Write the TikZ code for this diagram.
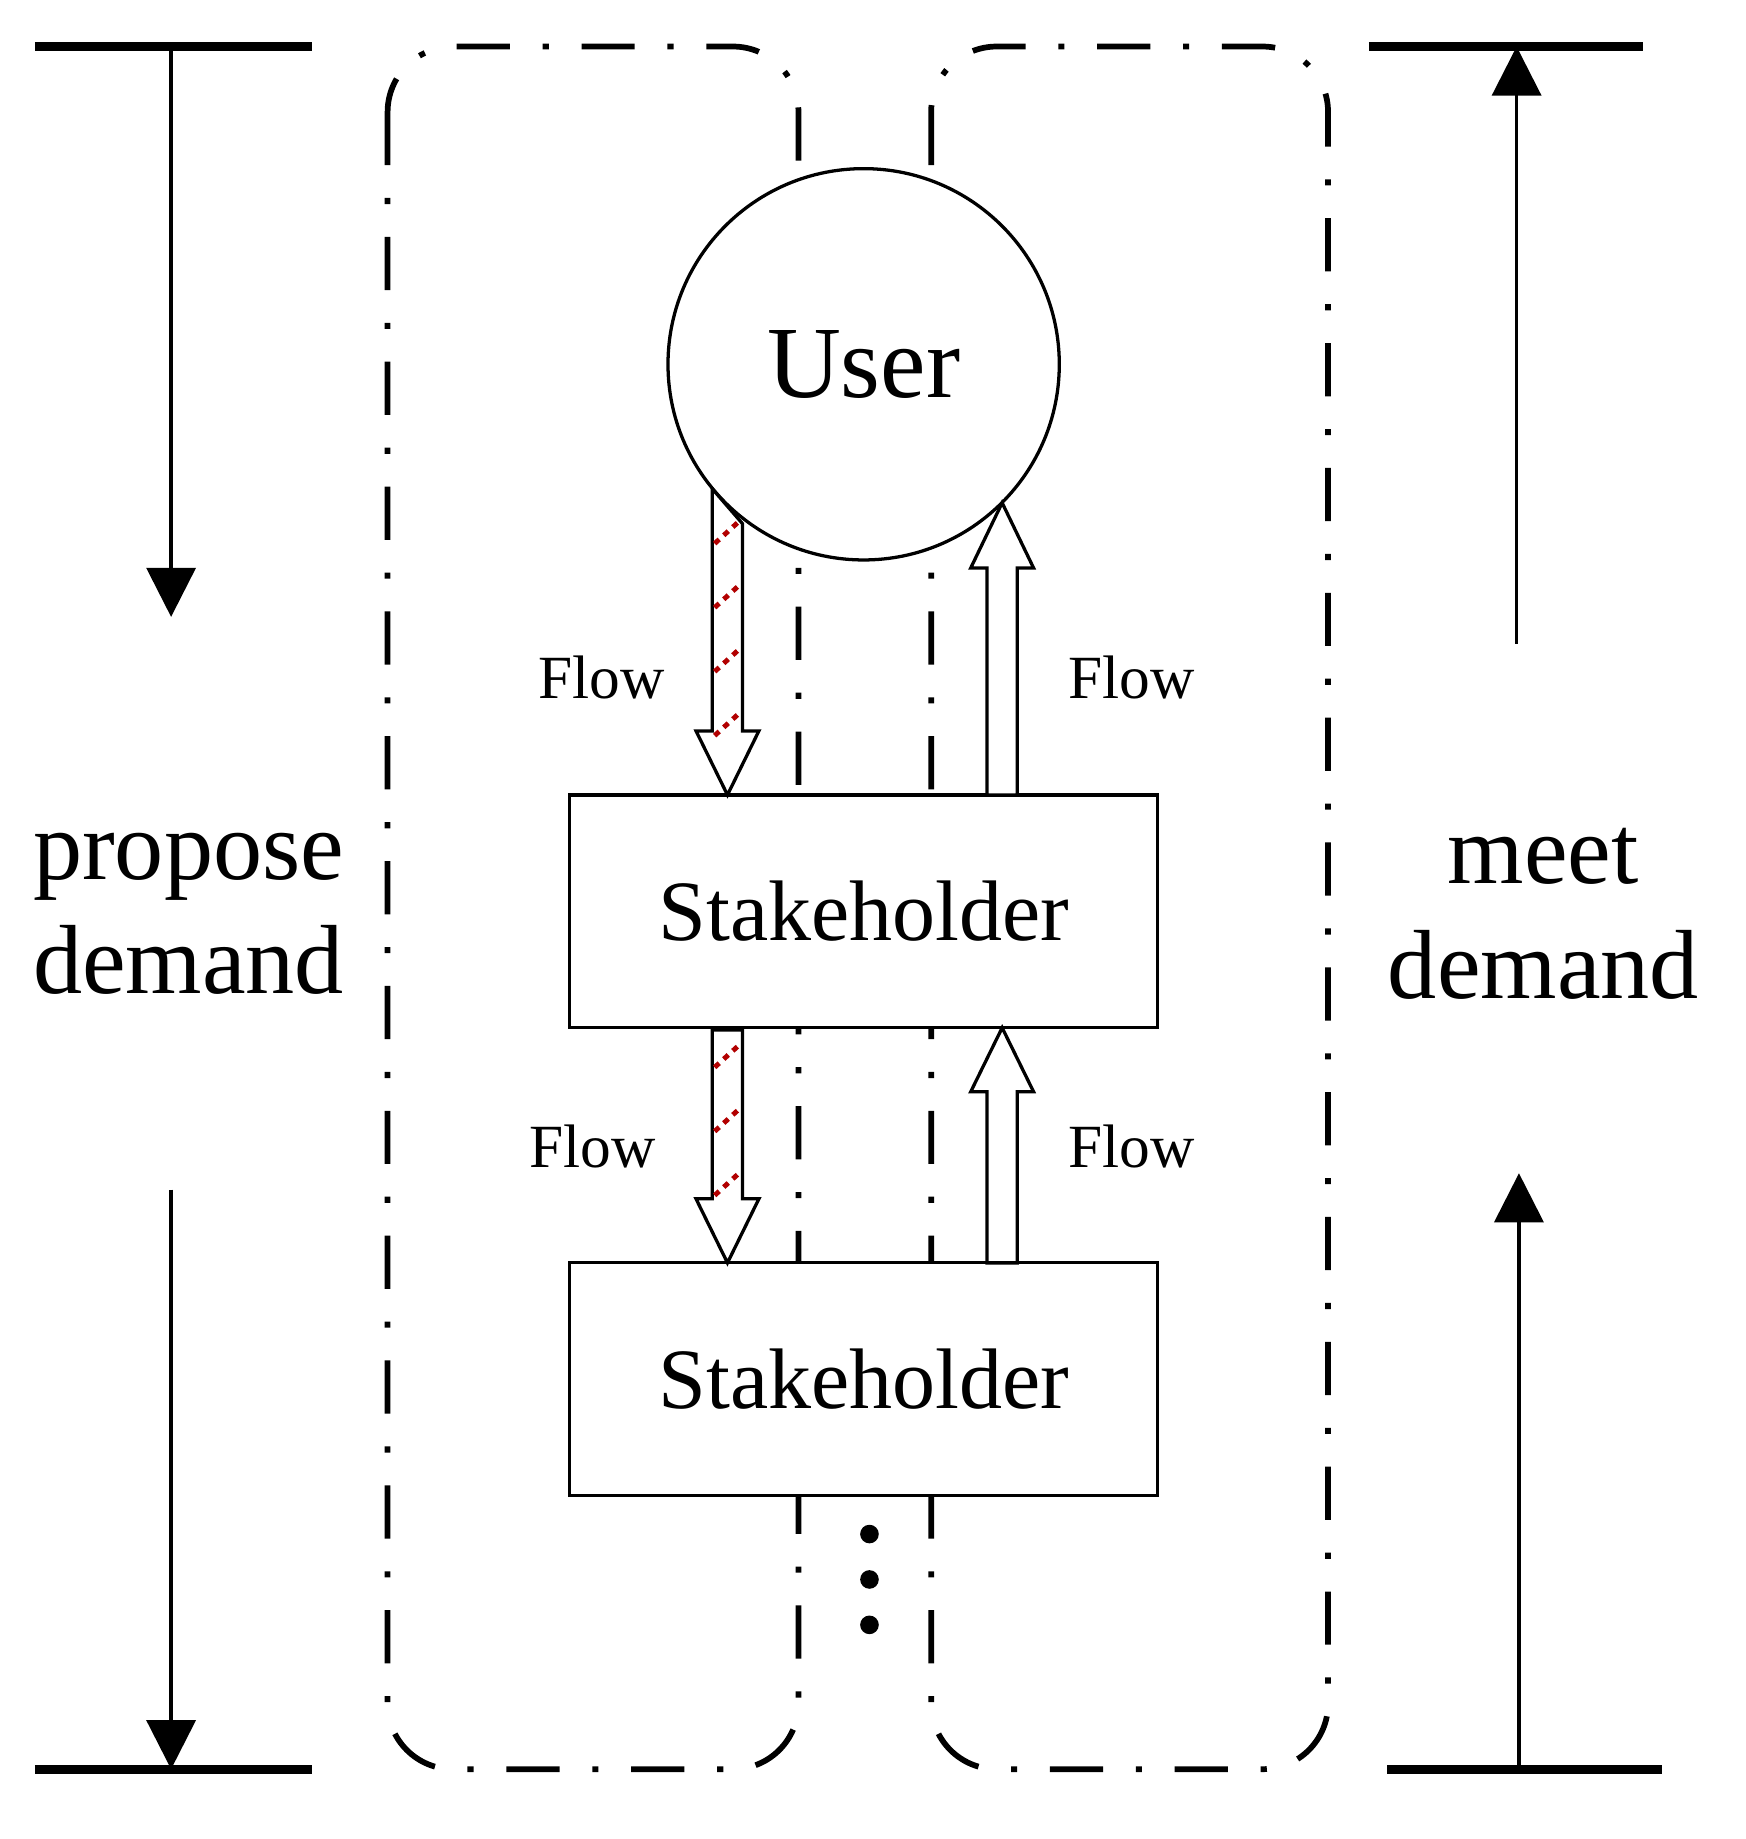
\documentclass[tikz,border=0pt]{standalone}
\usepackage{fontspec}
\setmainfont{Liberation Serif}
\usetikzlibrary{arrows.meta}
\begin{document}
\begin{tikzpicture}[x=0.01cm,y=-0.01cm,
  hl/.style={line width=2.2pt},
  ar/.style={line width=0.8pt,-{Triangle[length=12pt,width=12pt]}},
  dd/.style={line width=1.4pt,dash pattern=on 13pt off 8pt on 1.5pt off 8pt,rounded corners=16pt},
  ent/.style={draw,line width=0.8pt,fill=white},
  hol/.style={draw,line width=0.8pt,fill=white},
  hatch/.style={draw=red!70!black,line width=1.2pt,dash pattern=on 1.5pt off 1.5pt},
  big/.style={font=\fontsize{24}{28}\selectfont,align=center},
  fl/.style={font=\fontsize{15}{18}\selectfont}]
\useasboundingbox (0,0) rectangle (1500,1580);
% left side
\coordinate (lt1) at (30,40); \coordinate (lt2) at (268,40);
\coordinate (lb1) at (30,1520); \coordinate (lb2) at (268,1520);
\draw[hl] (lt1) -- (lt2); \draw[hl] (lb1) -- (lb2);
\coordinate (la1) at (147,40); \coordinate (la2) at (147,530);
\coordinate (la3) at (147,1022); \coordinate (la4) at (147,1520);
\draw[ar] (la1) -- (la2); \draw[ar] (la3) -- (la4);
\node[big] (prop) at (162,785) {propose\\demand};
% right side
\coordinate (rt1) at (1176,40); \coordinate (rt2) at (1412,40);
\coordinate (rb1) at (1192,1520); \coordinate (rb2) at (1428,1520);
\draw[hl] (rt1) -- (rt2); \draw[hl] (rb1) -- (rb2);
\coordinate (ra1) at (1303,553); \coordinate (ra2) at (1303,40);
\coordinate (ra3) at (1305,1520); \coordinate (ra4) at (1305,1008);
\draw[ar] (ra1) -- (ra2); \draw[ar] (ra3) -- (ra4);
\node[big] (meet) at (1326,785) {meet\\demand};
% dash-dot boxes
\draw[dd] (333,40) rectangle (686,1520);
\draw[dd] (800,40) rectangle (1141,1520);
% nodes
\node[ent,circle,inner sep=0pt,minimum size=3.36cm,font=\fontsize{25}{30}\selectfont] (user) at (742,313) {User};
\node[ent,minimum width=5.05cm,minimum height=2cm,font=\fontsize{21}{26}\selectfont] (s1) at (742,783) {Stakeholder};
\node[ent,minimum width=5.05cm,minimum height=2cm,font=\fontsize{21}{26}\selectfont] (s2) at (742,1185) {Stakeholder};
% hollow arrows down
\draw[hol] (612,420) -- (638,450) -- (638,628) -- (652,628) -- (625,683) -- (598,628) -- (612,628) -- cycle;
\foreach \y in {455,510,565,620} \draw[hatch] (614,\y+12) -- (636,\y-8);
\draw[hol] (612,885) -- (638,885) -- (638,1030) -- (652,1030) -- (625,1085) -- (598,1030) -- (612,1030) -- cycle;
\foreach \y in {905,960,1015} \draw[hatch] (614,\y+12) -- (636,\y-8);
% hollow arrows up
\draw[hol] (848,683) -- (874,683) -- (874,488) -- (888,488) -- (861,432) -- (834,488) -- (848,488) -- cycle;
\draw[hol] (848,1085) -- (874,1085) -- (874,938) -- (888,938) -- (861,883) -- (834,938) -- (848,938) -- cycle;
% labels
\node[fl] (f1) at (517,582) {Flow};
\node[fl] (f2) at (972,582) {Flow};
\node[fl] (f3) at (509,985) {Flow};
\node[fl] (f4) at (972,985) {Flow};
\foreach \y in {1318,1357,1396} \fill (747,\y) circle (8);
\end{tikzpicture}
\end{document}
